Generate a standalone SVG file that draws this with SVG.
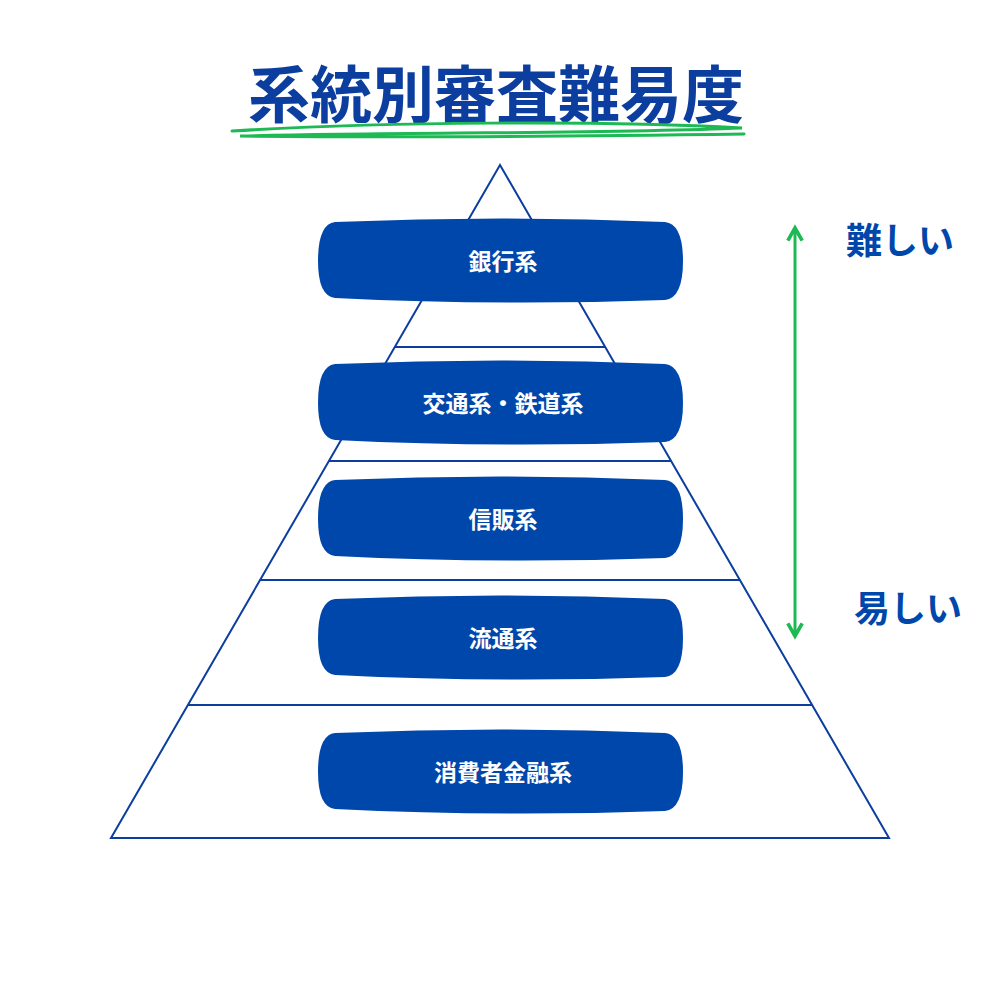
<svg xmlns="http://www.w3.org/2000/svg" width="1000" height="1000" viewBox="0 0 1000 1000">
<defs>
<style>
.t{font-family:"Noto Sans CJK JP","Noto Sans",sans-serif;font-weight:bold}
.lbl{fill:#fff;font-size:23px;text-anchor:middle}
.blob{fill:#0047AB}
.ln{stroke:#0B3E9E;stroke-width:2;fill:none}
</style>
<marker id="ah" viewBox="0 0 10 10" refX="8" refY="5" markerWidth="6" markerHeight="6" orient="auto-start-reverse"><path d="M1,1 L8,5 L1,9" fill="none" stroke="#1DB954" stroke-width="2"/></marker>
</defs>
<rect width="1000" height="1000" fill="#fff"/>
<g id="title">
<text class="t" x="496" y="118" font-size="62" fill="#0B3E9E" text-anchor="middle">系統別審査難易度</text>
<path d="M232,131 C380,122 600,120 742,128 C600,134 400,132 240,136 C420,138 600,136 744,134" fill="none" stroke="#1DB954" stroke-width="3" stroke-linecap="round"/>
</g>
<g id="pyramid">
<polygon class="ln" points="500,165 889,838 111,838"/>
<line class="ln" x1="395" y1="347" x2="605" y2="347"/>
<line class="ln" x1="329" y1="461" x2="671" y2="461"/>
<line class="ln" x1="260" y1="580" x2="740" y2="580"/>
<line class="ln" x1="188" y1="705" x2="812" y2="705"/>
</g>
<g id="n1"><path class="blob" d="M335,222 Q500,215 665,222 Q683,224 683,261 Q683,298 665,300 Q500,306 335,298 Q318,296 318,261 Q318,224 335,222Z"/><text class="t lbl" x="503" y="270">銀行系</text></g>
<g id="n2"><path class="blob" d="M335,364 Q500,357 665,364 Q683,366 683,403 Q683,440 665,442 Q500,448 335,440 Q318,438 318,403 Q318,366 335,364Z"/><text class="t lbl" x="503" y="412">交通系・鉄道系</text></g>
<g id="n3"><path class="blob" d="M335,480 Q500,473 665,480 Q683,482 683,519 Q683,556 665,558 Q500,564 335,556 Q318,554 318,519 Q318,482 335,480Z"/><text class="t lbl" x="503" y="528">信販系</text></g>
<g id="n4"><path class="blob" d="M335,599 Q500,592 665,599 Q683,601 683,638 Q683,675 665,677 Q500,683 335,675 Q318,673 318,638 Q318,601 335,599Z"/><text class="t lbl" x="503" y="647">流通系</text></g>
<g id="n5"><path class="blob" d="M335,733 Q500,726 665,733 Q683,735 683,772 Q683,809 665,811 Q500,817 335,809 Q318,807 318,772 Q318,735 335,733Z"/><text class="t lbl" x="503" y="781">消費者金融系</text></g>
<g id="connectors">
<line x1="795" y1="228" x2="795" y2="636" stroke="#1DB954" stroke-width="3" marker-start="url(#ah)" marker-end="url(#ah)"/>
</g>
<g id="labels">
<text class="t" x="900" y="254" font-size="36" fill="#0047AB" text-anchor="middle">難しい</text>
<text class="t" x="908" y="622" font-size="36" fill="#0047AB" text-anchor="middle">易しい</text>
</g>
</svg>
